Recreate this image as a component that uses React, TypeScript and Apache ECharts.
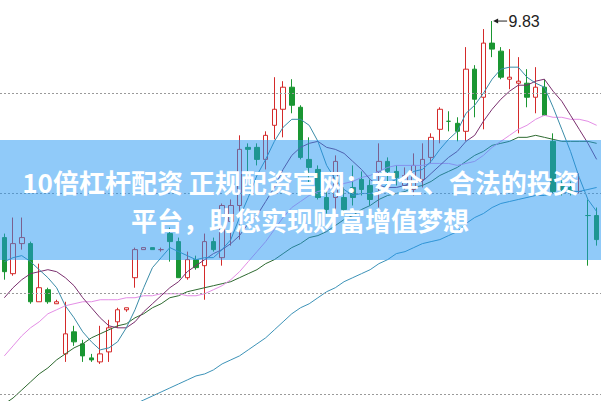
import React, { useEffect, useRef } from "react";
import * as echarts from "echarts";

// Trading days (categories)
const days = Array.from({ length: 69 }, (_, i) => `D${i + 1}`);

// Candle values
const opens = [
  8.75, 8.57, 8.72, 8.72, 8.43, 8.49, 8.42, 8.17, 8.28, 8.22,
  8.15, 8.13, 8.18, 8.33, 8.39, 8.55, 8.69, 8.70, 8.69, 8.77,
  8.73, 8.55, 8.64, 8.61, 8.73, 8.65, 8.83, 8.91, 9.20, 9.20,
  9.14, 9.31, 9.39, 9.50, 9.40, 9.14, 9.09, 8.95, 8.95, 8.95,
  9.00, 9.04, 9.01, 9.08, 9.13, 9.08, 9.01, 8.99, 9.04, 9.15,
  9.29, 9.33, 9.32, 9.28, 9.59, 9.45, 9.72, 9.68, 9.54, 9.52,
  9.52, 9.45, 9.50, 9.23, 9.01, 9.00, 8.98, 8.86, 8.86,
];
const closes = [
  8.58, 8.72, 8.75, 8.43, 8.50, 8.43, 8.43, 8.27, 8.23, 8.16,
  8.14, 8.17, 8.30, 8.39, 8.40, 8.69, 8.70, 8.69, 8.69, 8.73,
  8.55, 8.64, 8.60, 8.73, 8.69, 8.91, 8.91, 9.19, 9.19, 9.14,
  9.26, 9.39, 9.50, 9.41, 9.15, 9.10, 8.95, 8.89, 9.13, 8.89,
  8.95, 8.99, 8.94, 9.13, 9.08, 9.05, 9.06, 9.11, 9.14, 9.25,
  9.39, 9.33, 9.28, 9.59, 9.44, 9.72, 9.69, 9.55, 9.55, 9.53,
  9.45, 9.50, 9.36, 8.98, 8.99, 8.98, 8.98, 8.86, 8.74,
];
const lows = [
  8.54, 8.56, 8.69, 8.42, 8.43, 8.42, 8.42, 8.13, 8.21, 8.13,
  8.13, 8.12, 8.13, 8.30, 8.38, 8.50, 8.69, 8.69, 8.68, 8.63,
  8.55, 8.54, 8.59, 8.44, 8.68, 8.61, 8.71, 8.74, 9.08, 9.11,
  9.09, 9.24, 9.25, 9.37, 9.14, 9.02, 8.94, 8.87, 8.89, 8.86,
  8.91, 8.96, 8.91, 8.90, 9.01, 9.01, 8.99, 8.96, 9.00, 9.12,
  9.22, 9.28, 9.23, 9.23, 9.35, 9.29, 9.65, 9.54, 9.49, 9.27,
  9.40, 9.37, 9.36, 8.97, 8.96, 8.96, 8.97, 8.61, 8.71,
];
const highs = [
  8.77, 8.85, 8.85, 8.73, 8.62, 8.50, 8.44, 8.43, 8.31, 8.24,
  8.17, 8.31, 8.34, 8.40, 8.40, 8.70, 8.70, 8.70, 8.70, 8.80,
  8.75, 8.68, 8.66, 8.77, 8.75, 8.92, 8.94, 9.26, 9.22, 9.22,
  9.28, 9.55, 9.53, 9.54, 9.41, 9.25, 9.11, 8.98, 9.16, 9.00,
  9.11, 9.08, 9.04, 9.22, 9.15, 9.11, 9.10, 9.17, 9.22, 9.27,
  9.40, 9.38, 9.35, 9.70, 9.61, 9.79, 9.83, 9.70, 9.69, 9.65,
  9.59, 9.60, 9.54, 9.27, 9.05, 9.03, 9.07, 8.94, 8.90,
];

// Moving average lines
const ma5 = [
  8.63, 8.65, 8.66, 8.63, 8.59, 8.55, 8.50, 8.41, 8.35, 8.28,
  8.23, 8.19, 8.20, 8.23, 8.30, 8.39, 8.50, 8.60, 8.65, 8.70,
  8.68, 8.66, 8.64, 8.65, 8.65, 8.69, 8.74, 8.85, 8.95, 9.06,
  9.14, 9.23, 9.30, 9.34, 9.34, 9.31, 9.23, 9.11, 9.04, 8.99,
  8.96, 8.97, 8.97, 8.98, 9.02, 9.04, 9.05, 9.08, 9.09, 9.13,
  9.19, 9.24, 9.28, 9.37, 9.41, 9.47, 9.54, 9.59, 9.60, 9.60,
  9.55, 9.52, 9.50, 9.40, 9.29, 9.18, 9.05, 8.94, 8.88,
];
const ma10 = [
  8.45, 8.50, 8.54, 8.57, 8.58, 8.59, 8.58, 8.55, 8.51, 8.45,
  8.40, 8.35, 8.31, 8.30, 8.30, 8.33, 8.38, 8.42, 8.46, 8.50,
  8.53, 8.58, 8.61, 8.64, 8.67, 8.69, 8.72, 8.76, 8.82, 8.86,
  8.93, 9.00, 9.09, 9.16, 9.20, 9.22, 9.23, 9.20, 9.19, 9.17,
  9.13, 9.09, 9.04, 9.01, 9.00, 9.00, 9.01, 9.03, 9.03, 9.07,
  9.11, 9.15, 9.18, 9.23, 9.26, 9.33, 9.39, 9.44, 9.48, 9.51,
  9.51, 9.53, 9.54, 9.48, 9.43, 9.36, 9.29, 9.22, 9.14,
];
const ma20 = [
  8.16, 8.21, 8.26, 8.30, 8.33, 8.37, 8.39, 8.41, 8.42, 8.43,
  8.43, 8.44, 8.44, 8.44, 8.45, 8.45, 8.46, 8.46, 8.47, 8.47,
  8.47, 8.46, 8.46, 8.47, 8.49, 8.51, 8.54, 8.58, 8.63, 8.68,
  8.73, 8.79, 8.85, 8.90, 8.93, 8.96, 8.98, 8.99, 9.00, 9.02,
  9.03, 9.05, 9.06, 9.08, 9.10, 9.11, 9.11, 9.11, 9.11, 9.12,
  9.12, 9.12, 9.11, 9.12, 9.13, 9.16, 9.20, 9.23, 9.26, 9.29,
  9.31, 9.34, 9.36, 9.35, 9.35, 9.34, 9.34, 9.33, 9.31,
];
const ma30 = [
  7.92, 7.95, 7.99, 8.03, 8.07, 8.10, 8.14, 8.17, 8.20, 8.22,
  8.25, 8.27, 8.29, 8.31, 8.32, 8.35, 8.37, 8.40, 8.42, 8.45,
  8.46, 8.48, 8.49, 8.50, 8.51, 8.52, 8.53, 8.55, 8.57, 8.59,
  8.62, 8.64, 8.67, 8.70, 8.72, 8.75, 8.76, 8.78, 8.81, 8.84,
  8.86, 8.89, 8.91, 8.94, 8.96, 8.97, 8.98, 9.00, 9.01, 9.03,
  9.06, 9.08, 9.10, 9.13, 9.16, 9.18, 9.21, 9.22, 9.23, 9.25,
  9.25, 9.26, 9.25, 9.24, 9.23, 9.23, 9.23, 9.23, 9.22,
];
const ma60 = [
  null, null, null, null, null, null, null, null, null, null,
  null, null, null, null, null, 7.92, 7.94, 7.96, 7.98, 8.00,
  8.02, 8.04, 8.06, 8.07, 8.09, 8.12, 8.14, 8.16, 8.19, 8.22,
  8.25, 8.29, 8.33, 8.37, 8.40, 8.42, 8.45, 8.48, 8.50, 8.53,
  8.55, 8.57, 8.59, 8.62, 8.64, 8.67, 8.68, 8.70, 8.72, 8.73,
  8.74, 8.76, 8.78, 8.82, 8.85, 8.87, 8.90, 8.92, 8.93, 8.94,
  8.95, 8.96, 8.96, 8.97, 8.97, 8.98, 8.98, 8.99, 9.00,
];

// Dotted guide levels and the marked high
const gridLevels = [9.475, 8.975, 8.475, 7.975];
const peakIndex = 56;
const peakValue = 9.83;

const titleLines = [
  "10倍杠杆配资 正规配资官网：安全、合法的投资",
  "平台，助您实现财富增值梦想",
];

export default function App() {
  const ref = useRef<HTMLDivElement>(null);

  useEffect(() => {
    if (!ref.current) return;
    const chart = echarts.init(ref.current, null, { renderer: "svg" });

    const candleData = days.map((_, i) => [opens[i], closes[i], lows[i], highs[i]]);

    const lineSeries = (name: string, data: any[], color: string) => ({
      type: "line",
      name,
      data,
      symbol: "none",
      showSymbol: false,
      silent: true,
      lineStyle: { color, width: 1 },
      itemStyle: { color },
      z: 3,
    });

    chart.setOption({
      animation: false,
      backgroundColor: "#ffffff",
      grid: { left: 0, top: 0, width: 604, height: 401 },
      xAxis: { type: "category", data: days, show: false, boundaryGap: true },
      yAxis: { type: "value", min: 7.935, max: 9.935, show: false },
      series: [
        {
          type: "candlestick",
          data: candleData,
          barWidth: 5,
          silent: true,
          z: 2,
          itemStyle: {
            color: "#ffffff",
            color0: "#1a9632",
            borderColor: "#d42a2a",
            borderColor0: "#1a9632",
            borderWidth: 1,
          },
          markLine: {
            silent: true,
            symbol: ["none", "none"],
            label: { show: false },
            lineStyle: { color: "#9a9a9a", type: [2, 2], width: 1 },
            data: gridLevels.map((v) => ({ yAxis: v })),
          },
        },
        lineSeries("MA60", ma60, "#3d93b8"),
        lineSeries("MA30", ma30, "#2e6a30"),
        lineSeries("MA20", ma20, "#e48ee6"),
        lineSeries("MA10", ma10, "#7a2f6e"),
        lineSeries("MA5", ma5, "#3a8ca8"),
      ],
    });

    const p = chart.convertToPixel({ xAxisIndex: 0, yAxisIndex: 0 }, [peakIndex, peakValue]) as number[];
    const px = p[0];
    const py = p[1];

    chart.setOption({
      graphic: [
        {
          type: "polygon",
          z: 50,
          silent: true,
          shape: { points: [[px + 1, py], [px + 6, py - 2.5], [px + 6, py + 2.5]] },
          style: { fill: "#222222" },
        },
        {
          type: "line",
          z: 50,
          silent: true,
          shape: { x1: px + 5, y1: py, x2: px + 15, y2: py },
          style: { stroke: "#222222", lineWidth: 1 },
        },
        {
          type: "text",
          z: 50,
          silent: true,
          x: px + 16.5,
          y: py,
          style: {
            text: String(peakValue),
            fill: "#222222",
            font: '16px "Liberation Sans", Arial, sans-serif',
            textAlign: "left",
            textVerticalAlign: "middle",
            align: "left",
            verticalAlign: "middle",
          },
        },
        {
          type: "rect",
          z: 100,
          silent: true,
          shape: { x: 0, y: 140, width: 601, height: 120 },
          style: { fill: "rgba(33,150,243,0.5)" },
        },
        {
          type: "text",
          z: 101,
          silent: true,
          x: 300.5,
          y: 181,
          style: {
            text: titleLines[0],
            fill: "#ffffff",
            font: 'bold 26px "Noto Sans CJK SC", sans-serif',
            textAlign: "center",
            textVerticalAlign: "middle",
            align: "center",
            verticalAlign: "middle",
          },
        },
        {
          type: "text",
          z: 101,
          silent: true,
          x: 300,
          y: 219,
          style: {
            text: titleLines[1],
            fill: "#ffffff",
            font: 'bold 26px "Noto Sans CJK SC", sans-serif',
            textAlign: "center",
            textVerticalAlign: "middle",
            align: "center",
            verticalAlign: "middle",
          },
        },
      ],
    });

    return () => chart.dispose();
  }, []);

  return (
    <div
      ref={ref}
      style={{ position: "absolute", left: 0, top: 0, width: 601, height: 401, background: "#ffffff" }}
    />
  );
}
